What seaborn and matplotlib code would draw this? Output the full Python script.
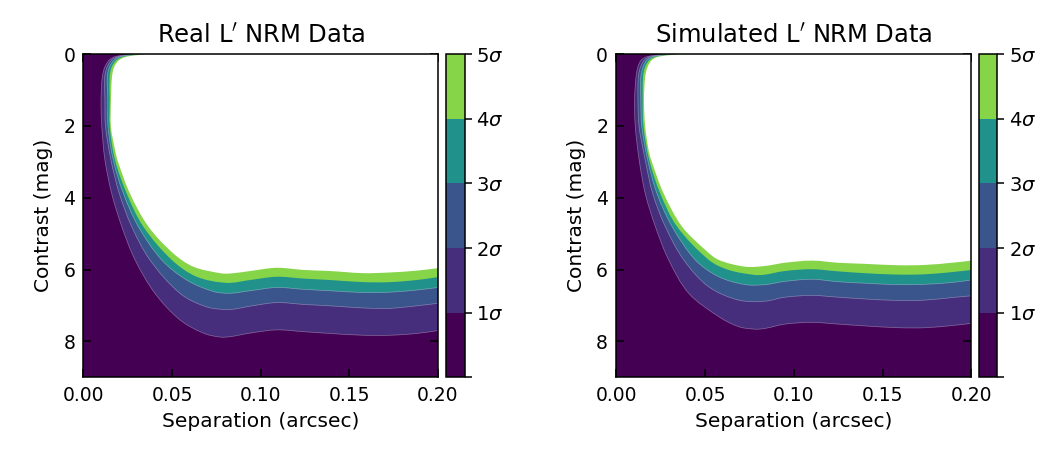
import numpy as np
import matplotlib
matplotlib.use("Agg")
import matplotlib.pyplot as plt
import matplotlib.cm as cm
from matplotlib.colors import ListedColormap, BoundaryNorm
from matplotlib.path import Path
from matplotlib.patches import PathPatch
import seaborn as sns

# axis ticks and colorbar levels
sep_ticks = [0.00, 0.05, 0.10, 0.15, 0.20]
mag_ticks = [0, 2, 4, 6, 8]
sigma_levels = [0, 1, 2, 3, 4, 5]
sigma_labels = ["", r"$1\sigma$", r"$2\sigma$", r"$3\sigma$", r"$4\sigma$", r"$5\sigma$"]
titles = ["Real L$'$ NRM Data", "Simulated L$'$ NRM Data"]

# contour boundaries: separation (arcsec), contrast (mag)
real_1sig_sep = [0.026, 0.0178, 0.0146, 0.0121, 0.0106, 0.0099, 0.0103, 0.0121, 0.0159, 0.0216, 0.0291, 0.0403,
                 0.0544, 0.0676, 0.077, 0.0827, 0.094, 0.109, 0.124, 0.139, 0.158, 0.173, 0.188, 0.2]
real_1sig_mag = [0.0, 0.07, 0.16, 0.35, 0.63, 1.28, 2.0, 2.95, 3.88, 4.80, 5.73, 6.66,
                 7.40, 7.77, 7.88, 7.87, 7.77, 7.68, 7.73, 7.78, 7.83, 7.83, 7.78, 7.70]
real_2sig_sep = [0.029, 0.0195, 0.016, 0.0134, 0.012, 0.0121, 0.0124, 0.0155, 0.0202, 0.0272, 0.0375, 0.0544,
                 0.0695, 0.0827, 0.094, 0.109, 0.124, 0.139, 0.158, 0.173, 0.188, 0.2]
real_2sig_mag = [0.0, 0.07, 0.16, 0.35, 0.63, 1.28, 2.0, 2.95, 3.88, 4.80, 5.73, 6.66,
                 7.04, 7.11, 7.02, 6.92, 6.97, 7.01, 7.07, 7.08, 7.01, 6.94]
real_3sig_sep = [0.031, 0.021, 0.0174, 0.0147, 0.0134, 0.0137, 0.0138, 0.0168, 0.0225, 0.0309, 0.0441, 0.0582,
                 0.0732, 0.0827, 0.094, 0.109, 0.124, 0.139, 0.158, 0.173, 0.188, 0.2]
real_3sig_mag = [0.0, 0.07, 0.16, 0.35, 0.63, 1.28, 2.0, 2.95, 3.88, 4.80, 5.73, 6.29,
                 6.61, 6.66, 6.59, 6.50, 6.55, 6.59, 6.64, 6.63, 6.57, 6.50]
real_4sig_sep = [0.033, 0.0227, 0.0188, 0.016, 0.0148, 0.0148, 0.0148, 0.0178, 0.0244, 0.0337, 0.0498, 0.0639,
                 0.0808, 0.094, 0.109, 0.124, 0.139, 0.158, 0.173, 0.188, 0.2]
real_4sig_mag = [0.0, 0.07, 0.16, 0.35, 0.63, 1.28, 2.0, 2.95, 3.88, 4.80, 5.73, 6.20,
                 6.37, 6.29, 6.20, 6.25, 6.29, 6.35, 6.35, 6.29, 6.21]
real_5sig_sep = [0.035, 0.0244, 0.0202, 0.0174, 0.0161, 0.0155, 0.0155, 0.0178, 0.0195, 0.0262, 0.0366, 0.0507,
                 0.062, 0.077, 0.0827, 0.094, 0.109, 0.124, 0.139, 0.158, 0.173, 0.188, 0.2]
real_5sig_mag = [0.0, 0.07, 0.16, 0.35, 0.63, 1.28, 2.02, 2.67, 3.0, 3.88, 4.80, 5.55,
                 5.92, 6.10, 6.11, 6.04, 5.95, 6.01, 6.04, 6.10, 6.08, 6.03, 5.96]

sim_1sig_sep = [0.026, 0.0172, 0.014, 0.0121, 0.011, 0.0102, 0.0106, 0.0128, 0.0162, 0.0219, 0.0294, 0.0407,
                0.0576, 0.0688, 0.078, 0.0837, 0.0949, 0.110, 0.125, 0.140, 0.159, 0.174, 0.189, 0.2]
sim_1sig_mag = [0.0, 0.07, 0.16, 0.35, 0.63, 1.28, 2.02, 2.95, 3.88, 4.80, 5.73, 6.66,
                7.31, 7.59, 7.66, 7.64, 7.52, 7.47, 7.52, 7.57, 7.62, 7.62, 7.56, 7.50]
sim_2sig_sep = [0.029, 0.0192, 0.0158, 0.0136, 0.0123, 0.0121, 0.0127, 0.0162, 0.0204, 0.0275, 0.0379, 0.052,
                0.0688, 0.0837, 0.0949, 0.110, 0.125, 0.140, 0.159, 0.174, 0.189, 0.2]
sim_2sig_mag = [0.0, 0.07, 0.16, 0.35, 0.63, 1.28, 2.0, 2.95, 3.88, 4.80, 5.73, 6.48,
                6.85, 6.88, 6.77, 6.72, 6.77, 6.82, 6.86, 6.85, 6.78, 6.73]
sim_3sig_sep = [0.031, 0.0206, 0.0172, 0.015, 0.0137, 0.0137, 0.0142, 0.0176, 0.0228, 0.0313, 0.0444, 0.0576,
                0.0726, 0.0837, 0.0949, 0.110, 0.125, 0.140, 0.159, 0.174, 0.189, 0.2]
sim_3sig_mag = [0.0, 0.07, 0.16, 0.35, 0.63, 1.28, 2.0, 2.95, 3.88, 4.80, 5.73, 6.20,
                6.42, 6.42, 6.33, 6.27, 6.34, 6.38, 6.42, 6.41, 6.36, 6.29]
sim_4sig_sep = [0.033, 0.0222, 0.0186, 0.0162, 0.015, 0.0148, 0.0152, 0.0185, 0.0247, 0.0341, 0.052, 0.0632,
                0.078, 0.0837, 0.0949, 0.110, 0.125, 0.140, 0.159, 0.174, 0.189, 0.2]
sim_4sig_mag = [0.0, 0.07, 0.16, 0.35, 0.63, 1.28, 2.0, 2.95, 3.88, 4.80, 5.73, 6.01,
                6.15, 6.14, 6.04, 5.99, 6.05, 6.10, 6.14, 6.13, 6.07, 6.01]
sim_5sig_sep = [0.035, 0.0238, 0.020, 0.0176, 0.0162, 0.0155, 0.0162, 0.0181, 0.0196, 0.0266, 0.0369, 0.050,
                0.0576, 0.0726, 0.0837, 0.0949, 0.110, 0.125, 0.140, 0.159, 0.174, 0.189, 0.2]
sim_5sig_mag = [0.0, 0.07, 0.16, 0.35, 0.63, 1.28, 2.02, 2.67, 2.95, 3.88, 4.80, 5.45,
                5.73, 5.92, 5.90, 5.81, 5.75, 5.81, 5.84, 5.88, 5.87, 5.81, 5.75]

panels = [
    [(real_1sig_sep, real_1sig_mag), (real_2sig_sep, real_2sig_mag), (real_3sig_sep, real_3sig_mag),
     (real_4sig_sep, real_4sig_mag), (real_5sig_sep, real_5sig_mag)],
    [(sim_1sig_sep, sim_1sig_mag), (sim_2sig_sep, sim_2sig_mag), (sim_3sig_sep, sim_3sig_mag),
     (sim_4sig_sep, sim_4sig_mag), (sim_5sig_sep, sim_5sig_mag)],
]


def smooth_path(sep, mag, close_at=None):
    """Bezier path through the read points (chord-scaled tangents), optionally closed via a corner."""
    p = np.column_stack([sep, mag]).astype(float)
    q = p / np.array([0.2, 9.0])  # normalise so both axes count equally
    d = np.linalg.norm(np.diff(q, axis=0), axis=1)
    n = len(p)
    tang = np.zeros_like(p)
    for i in range(n):
        if i == 0:
            tang[i] = (p[1] - p[0]) / d[0]
        elif i == n - 1:
            tang[i] = (p[-1] - p[-2]) / d[-1]
        else:
            tang[i] = (p[i + 1] - p[i - 1]) / (d[i - 1] + d[i])
    verts = [p[0]]
    codes = [Path.MOVETO]
    for i in range(n - 1):
        verts += [p[i] + tang[i] * d[i] / 3, p[i + 1] - tang[i + 1] * d[i] / 3, p[i + 1]]
        codes += [Path.CURVE4] * 3
    if close_at is not None:
        verts += [close_at, p[0]]
        codes += [Path.LINETO, Path.CLOSEPOLY]
    return Path(np.array(verts), codes)


sns.set_style("ticks")
plt.rcParams["font.family"] = ["DejaVu Sans"]
plt.rcParams["mathtext.fontset"] = "dejavusans"
for key in ["text.color", "axes.labelcolor", "xtick.color", "ytick.color", "axes.edgecolor"]:
    plt.rcParams[key] = "black"

vir = sns.color_palette("viridis", as_cmap=True)
band_colors = [vir(0.0), vir(0.13), vir(0.26), vir(0.5), vir(0.82)]
fill_colors = band_colors[1:] + ["white"]

fig = plt.figure(figsize=(10.5, 4.5), dpi=100)
ax_rects = [[0.0795, 0.1616, 0.3376, 0.718], [0.5871, 0.1616, 0.3381, 0.718]]
cax_rects = [[0.4248, 0.1616, 0.0176, 0.718], [0.9324, 0.1616, 0.0174, 0.718]]

cmap = ListedColormap(band_colors)
norm = BoundaryNorm(sigma_levels, cmap.N)

for i, curves in enumerate(panels):
    ax = fig.add_axes(ax_rects[i])
    ax.set_facecolor(band_colors[0])
    for k, (sep, mag) in enumerate(curves):
        patch = PathPatch(smooth_path(sep, mag, close_at=(sep_ticks[-1], mag_ticks[0])),
                          facecolor=fill_colors[k], lw=0, zorder=1 + k)
        ax.add_patch(patch)
    for k, (sep, mag) in enumerate(curves[:3]):
        edge = PathPatch(smooth_path(sep, mag), facecolor="none", edgecolor="white",
                         alpha=0.35, lw=0.5, zorder=1.5 + k)
        ax.add_patch(edge)

    ax.set_xlim(0, 0.2)
    ax.set_ylim(9, 0)
    ax.set_xticks(sep_ticks)
    ax.set_xticklabels([f"{t:.2f}" for t in sep_ticks])
    ax.set_yticks(mag_ticks)
    ax.tick_params(direction="in", top=True, right=True, length=6, width=1.1, labelsize=13.5, pad=6)
    for s in ax.spines.values():
        s.set_linewidth(1.1)
        s.set_zorder(10)
    ax.set_xlabel("Separation (arcsec)", fontsize=14.5, labelpad=5)
    ax.set_ylabel("Contrast (mag)", fontsize=14.5, labelpad=7.5)
    ax.set_title(titles[i], fontsize=17.5, pad=8)

    cax = fig.add_axes(cax_rects[i])
    sm = cm.ScalarMappable(norm=norm, cmap=cmap)
    cb = fig.colorbar(sm, cax=cax, ticks=sigma_levels)
    cb.set_ticklabels(sigma_labels)
    cb.ax.tick_params(direction="out", length=5, width=1.1, labelsize=14)
    cb.outline.set_linewidth(1.1)

fig.savefig("out.png", dpi=100)
